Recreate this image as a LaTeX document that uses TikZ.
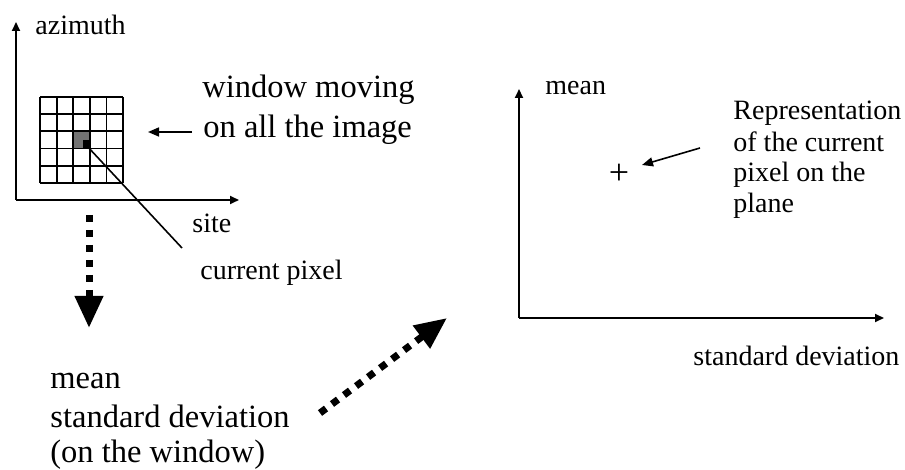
\documentclass[tikz,border=0pt]{standalone}
\usepackage{fontspec}
\setmainfont{Liberation Serif}
\usetikzlibrary{arrows.meta}
\begin{document}
\begin{tikzpicture}[x=0.5pt,y=-0.5pt,
  small/.style={font=\fontsize{14}{15.5}\selectfont, inner sep=0pt, anchor=base west},
  large/.style={font=\fontsize{16.25}{19}\selectfont, inner sep=0pt, anchor=base west},
  axis/.style={line width=1pt, -{Triangle[length=4.5pt,width=4pt]}},
  gridline/.style={line width=0.9pt},
  pointer/.style={line width=0.8pt, -{Triangle[length=5.5pt,width=4.5pt]}},
  dotarrow/.style={line width=3.5pt, dash pattern=on 3.75pt off 3.75pt, -{Triangle[width=13.5pt,length=16pt]}}
]
\useasboundingbox (0,0) rectangle (905,470);
% left axes
\coordinate (o1) at (16,200);
\coordinate (y1) at (16,22);
\coordinate (x1) at (239,200);
\draw[axis] (o1) -- (y1);
\draw[axis] (o1) -- (x1);
\node[small] (az) at (35,35) {azimuth};
\node[small] (site) at (192,233) {site};
% grid window
\fill[black!55] (73.2,131.4) rectangle (89.8,148);
\fill[black] (83,140) rectangle (89.8,148);
\foreach \i in {0,...,5}{
  \draw[gridline] ({40+\i*16.6},97) -- ({40+\i*16.6},183);
  \draw[gridline] (40,{97+\i*17.2}) -- (123,{97+\i*17.2});
}
\coordinate (pix) at (87,146);
\node[small] (cp) at (200,280) {current pixel};
\coordinate (cpend) at (182,248);
\draw[line width=0.8pt] (pix) -- (cpend);
% window label
\node[large] (win1) at (202,98) {window moving};
\node[large] (win2) at (203,138) {on all the image};
\coordinate (wtail) at (192,132);
\coordinate (wtip) at (148,132);
\draw[pointer] (wtail) -- (wtip);
% dotted down arrow
\coordinate (d1) at (89,215);
\coordinate (d2) at (89,328);
\draw[dotarrow] (d1) -- (d2);
% bottom left text
\node[large] (m1) at (50,388) {mean};
\node[large] (sd1) at (50,427) {standard deviation};
\node[large] (otw) at (50,462) {(on the window)};
% dotted diagonal arrow
\coordinate (e1) at (320,413);
\coordinate (e2) at (447,318);
\draw[dotarrow] (e1) -- (e2);
% right axes
\coordinate (o2) at (519,318);
\coordinate (y2) at (519,89);
\coordinate (x2) at (884,318);
\draw[axis] (o2) -- (y2);
\draw[axis] (o2) -- (x2);
\node[small] (meanR) at (545,95) {mean};
\node[small] (sdR) at (693,365) {standard deviation};
\node[font=\fontsize{18}{20}\selectfont, inner sep=0pt] (plus) at (619,174) {+};
\node[small] (r1) at (733,120) {Representation};
\node[small] (r2) at (733,152) {of the current};
\node[small] (r3) at (733,182) {pixel on the};
\node[small] (r4) at (733,213) {plane};
\coordinate (rtail) at (700,148);
\coordinate (rtip) at (642,165);
\draw[pointer] (rtail) -- (rtip);
\end{tikzpicture}
\end{document}
